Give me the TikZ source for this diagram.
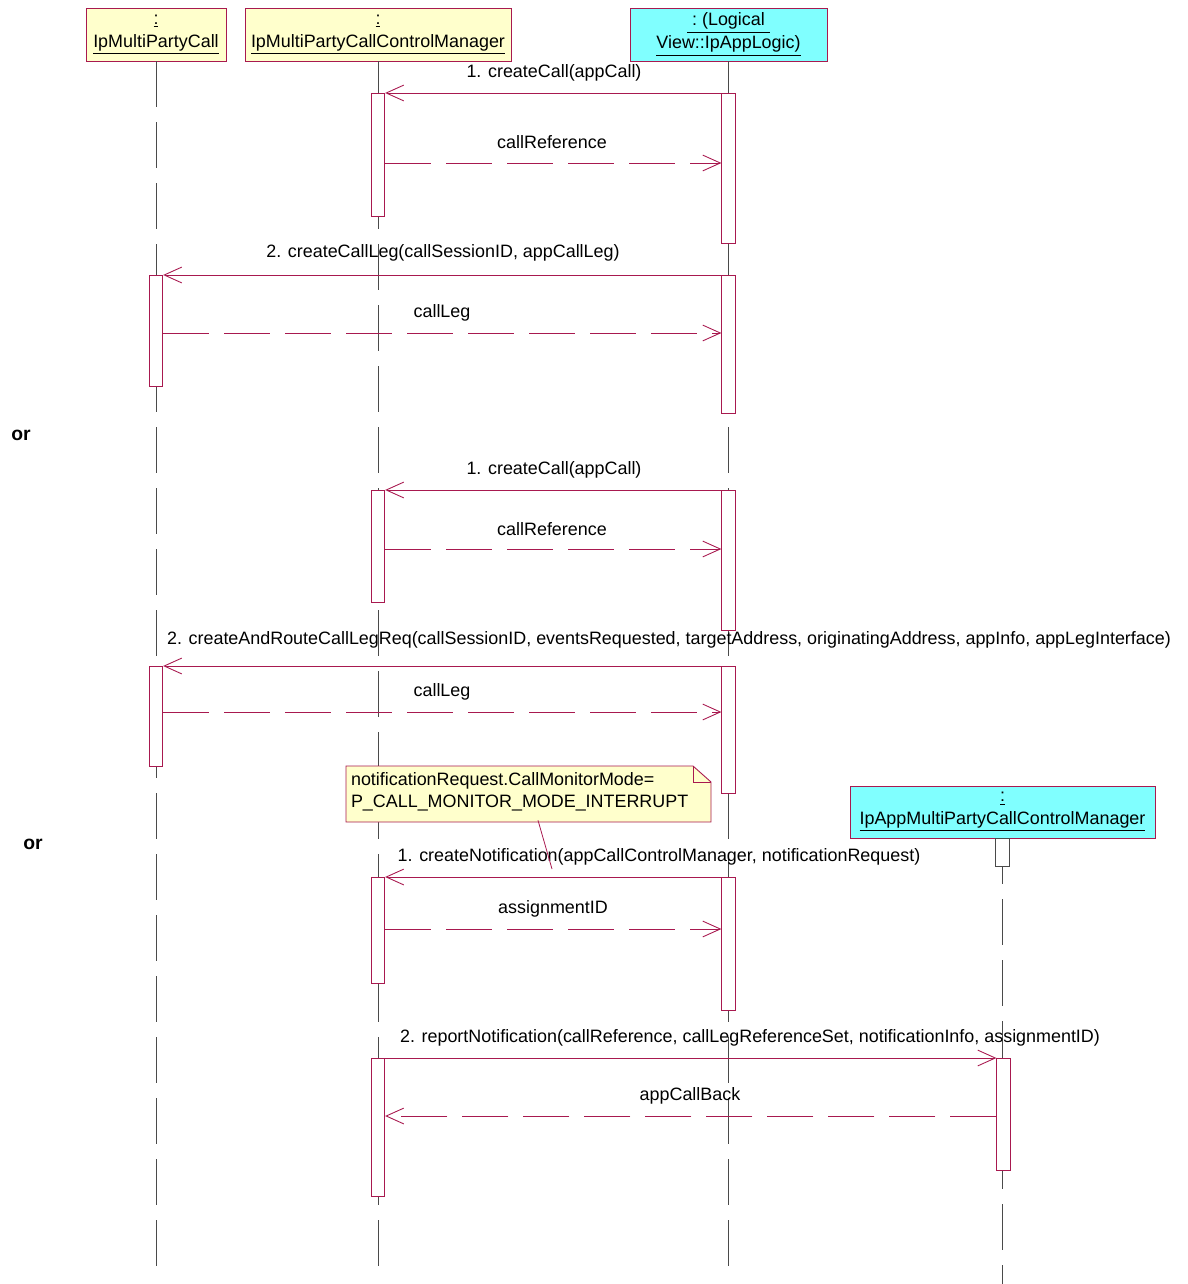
\documentclass[tikz,border=0pt]{standalone}
\usepackage{fontspec}
\setmainfont{Liberation Sans}
\usetikzlibrary{arrows.meta}

\begin{document}
\begin{tikzpicture}[x=0.02cm,y=-0.02cm,font=\fontsize{10.2}{12.5}\selectfont,
  head/.style={draw=umlred,line width=0.5pt,align=center,inner sep=0pt,minimum height=1.06cm,
    font=\fontsize{10.2}{13}\selectfont},
  act/.style={draw=umlred,fill=white,line width=0.45pt,minimum width=0.27cm,inner sep=0pt,anchor=north},
  life/.style={draw=lifegrey,line width=0.45pt,dash pattern=on 0.92cm off 0.3cm},
  call/.style={draw=umlred,line width=0.45pt,-{Straight Barb[length=10pt,width=9pt,line width=0.5pt]}},
  reply/.style={call,dash pattern=on 0.92cm off 0.3cm},
  lbl/.style={inner sep=0pt},
  orlbl/.style={inner sep=0pt,font=\bfseries\fontsize{11}{13}\selectfont}]
  \definecolor{umlred}{HTML}{A8194F}
  \definecolor{lifegrey}{HTML}{4A4A4A}
  \definecolor{hyellow}{HTML}{FFFFCC}
  \definecolor{hcyan}{HTML}{80FFFF}
  \useasboundingbox (0,0) rectangle (1187,1284);

  % objects
  \node[head,fill=hyellow,minimum width=2.8cm] (mpc) at (156,34.5)
    {\underline{:}\\\underline{IpMultiPartyCall}};
  \node[head,fill=hyellow,minimum width=5.32cm] (mpccm) at (378,34.5)
    {\underline{:}\\\underline{IpMultiPartyCallControlManager}};
  \node[head,fill=hcyan,minimum width=3.94cm] (logic) at (728.5,34.5)
    {\underline{~:~(Logical~}\\\underline{View::IpAppLogic)}};
  \node[head,fill=hcyan,minimum width=6.1cm,minimum height=1.04cm] (appmgr) at (1002.5,812)
    {\underline{:}\\\underline{IpAppMultiPartyCallControlManager}};

  % lifelines
  \foreach \n in {mpc,mpccm,logic}
    \draw[life] (\n.south) -- (\n.south |- 0,1275);
  \draw[life] (appmgr.south) -- (appmgr.south |- 0,1284);

  % activations
  \foreach \name/\x/\top/\bot in {b1/378/93/216, c1/728.5/93/243, a1/156/275/386,
    c2/728.5/275/413, b2/378/490/602, c3/728.5/490/630, a2/156/666/766,
    c4/728.5/666/793, b3/378/877/983, c5/728.5/877/1010, b4/378/1058/1196,
    d1/1003.5/1058/1170}{
    \pgfmathsetmacro\h{(\bot-\top)*0.02}
    \node[act,minimum height=\h cm] (\name) at (\x,\top) {};
  }
  \node[act,draw=lifegrey,minimum height=0.56cm] (d0) at (appmgr.south) {};

  % messages
  \draw[call] (c1.north west) -- (b1.north east);
  \draw[reply] (b1.east |- 0,163) -- (c1.west |- 0,163);
  \draw[call] (c2.north west) -- (a1.north east);
  \draw[reply] (a1.east |- 0,333) -- (c2.west |- 0,333);
  \draw[call] (c3.north west) -- (b2.north east);
  \draw[reply] (b2.east |- 0,549) -- (c3.west |- 0,549);
  \draw[call] (c4.north west) -- (a2.north east);
  \draw[reply] (a2.east |- 0,712) -- (c4.west |- 0,712);
  \draw[call] (c5.north west) -- (b3.north east);
  \draw[reply] (b3.east |- 0,929) -- (c5.west |- 0,929);
  \draw[call] (b4.north east) -- (d1.north west);
  \draw[reply] (d1.west |- 0,1116) -- (b4.east |- 0,1116);

  \node[lbl] (l1) at (554,73) {1. createCall(appCall)};
  \node[lbl] (l1r) at (552,142) {callReference};
  \node[lbl] (l2) at (443,253) {2. createCallLeg(callSessionID, appCallLeg)};
  \node[lbl] (l2r) at (442,313) {callLeg};
  \node[lbl] (l3) at (554,470) {1. createCall(appCall)};
  \node[lbl] (l3r) at (552,529) {callReference};
  \node[lbl] (l4) at (669,640) {2. createAndRouteCallLegReq(callSessionID, eventsRequested, targetAddress, originatingAddress, appInfo, appLegInterface)};
  \node[lbl] (l4r) at (442,692) {callLeg};
  \node[lbl] (l5) at (659,857) {1. createNotification(appCallControlManager, notificationRequest)};
  \node[lbl] (l5r) at (553,909) {assignmentID};
  \node[lbl] (l6) at (750,1038) {2. reportNotification(callReference, callLegReferenceSet, notificationInfo, assignmentID)};
  \node[lbl] (l6r) at (690,1096) {appCallBack};

  \node[orlbl] (or1) at (21,435) {or};
  \node[orlbl] (or2) at (33,844) {or};

  % note
  \draw[umlred,fill=hyellow,line width=0.5pt]
    (346,766) -- (693,766) -- (711,782) -- (711,822) -- (346,822) -- cycle;
  \draw[umlred,line width=0.5pt] (693,766) -- (693,782) -- (711,782);
  \node[minimum width=7.3cm,minimum height=1.12cm,text width=7.1cm,align=left,
    inner xsep=0.1cm,inner ysep=0pt] (note) at (528.5,792)
    {notificationRequest.CallMonitorMode=\\P\_CALL\_MONITOR\_MODE\_INTERRUPT};
  \coordinate (notetip) at (552,869);
  \draw[umlred,line width=0.45pt] (note.south -| 538,0) -- (notetip);
\end{tikzpicture}
\end{document}
